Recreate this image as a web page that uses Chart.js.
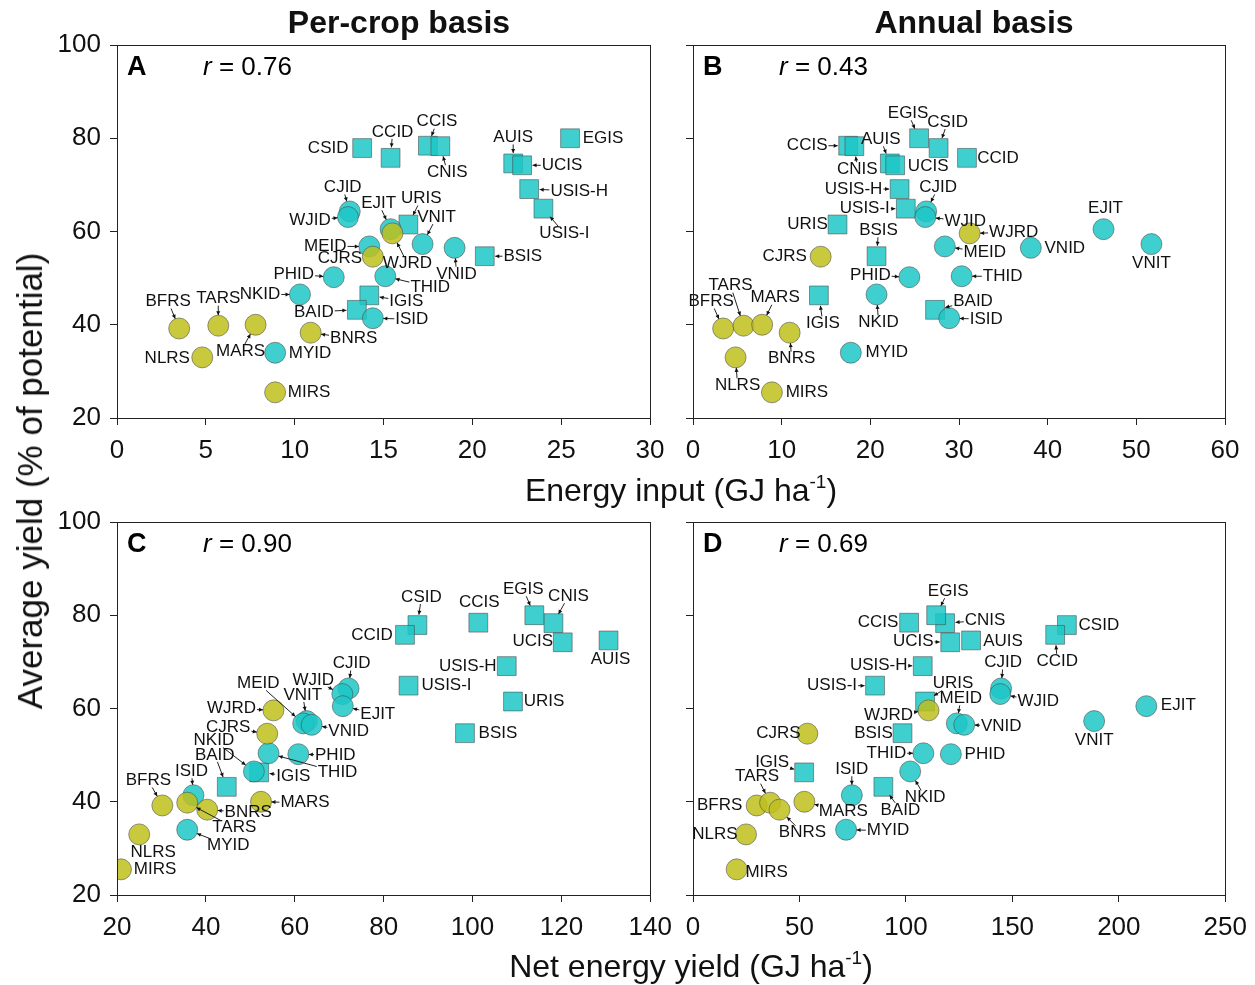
<!DOCTYPE html>
<html>
<head>
<meta charset="utf-8">
<script src="https://cdn.jsdelivr.net/npm/chart.js@4.4.1/dist/chart.umd.min.js"></script>
<style>
  body { margin: 0; background: #fff; font-family: "Liberation Sans", Arial, sans-serif; }
  #page { position: relative; width: 1255px; height: 985px; overflow: hidden; }
  canvas { position: absolute; }
  .txt { position: absolute; transform: translate(-50%, -50%); white-space: nowrap; color: #111; }
  .sup { font-size: 19px; position: relative; top: -13px; }
</style>
</head>
<body>
<div id="page">
  <canvas id="cA" width="680" height="470" style="left:0;top:0"></canvas>
  <canvas id="cB" width="580" height="470" style="left:675px;top:0"></canvas>
  <canvas id="cC" width="682" height="515" style="left:0;top:470px"></canvas>
  <canvas id="cD" width="582" height="515" style="left:675px;top:470px"></canvas>

  <div class="txt" style="left:399px;top:22px;font-weight:bold;font-size:32px">Per-crop basis</div>
  <div class="txt" style="left:974px;top:22px;font-weight:bold;font-size:32px">Annual basis</div>
  <div class="txt" style="left:681px;top:490px;font-size:32px">Energy input (GJ ha<span class="sup">-1</span>)</div>
  <div class="txt" style="left:691px;top:966px;font-size:32px">Net energy yield (GJ ha<span class="sup">-1</span>)</div>
  <div class="txt" style="left:30px;top:481px;font-size:35px;transform:translate(-50%,-50%) rotate(-90deg)">Average yield (% of potential)</div>
</div>

<script>
// systems (same order in every array)
var names = ["CSID", "CCID", "CCIS", "CNIS", "AUIS", "UCIS", "EGIS", "USIS-H", "USIS-I", "URIS", "BSIS", "IGIS", "BAID",
  "CJID", "WJID", "EJIT", "VNIT", "MEID", "VNID", "PHID", "THID", "NKID", "ISID", "MYID",
  "CJRS", "WJRD", "BFRS", "TARS", "MARS", "BNRS", "NLRS", "MIRS"];
var kind = ["sq", "sq", "sq", "sq", "sq", "sq", "sq", "sq", "sq", "sq", "sq", "sq", "sq",
  "tc", "tc", "tc", "tc", "tc", "tc", "tc", "tc", "tc", "tc", "tc",
  "yc", "yc", "yc", "yc", "yc", "yc", "yc", "yc"];

// average yield (% of potential)
var yieldPct = [77.9, 75.8, 78.4, 78.3, 74.6, 74.2, 80.0, 69.1, 64.9, 61.5, 54.7, 46.3, 43.2,
  64.3, 63.1, 60.5, 57.3, 56.8, 56.5, 50.2, 50.4, 46.5, 41.4, 34.0,
  54.6, 59.6, 39.2, 39.8, 40.0, 38.3, 33.0, 25.5];

// energy input, GJ/ha
var inputPerCrop = [13.8, 15.4, 17.5, 18.2, 22.3, 22.8, 25.5, 23.2, 24.0, 16.4, 20.7, 14.2, 13.5,
  13.1, 13.0, 15.4, 17.2, 14.2, 19.0, 12.2, 15.1, 10.3, 14.4, 8.9,
  14.4, 15.5, 3.5, 5.7, 7.8, 10.9, 4.8, 8.9];
var inputAnnual = [27.7, 30.9, 17.5, 18.2, 22.2, 22.8, 25.5, 23.3, 24.0, 16.3, 20.7, 14.2, 27.3,
  26.3, 26.2, 46.3, 51.7, 28.4, 38.1, 24.4, 30.3, 20.7, 28.9, 17.8,
  14.4, 31.2, 3.4, 5.7, 7.8, 10.9, 4.8, 8.9];

// net energy yield, GJ/ha
var netPerCrop = [87.6, 84.8, 101.3, 118.2, 130.6, 120.3, 113.9, 107.7, 85.6, 109.1, 98.3, 52.0, 44.7,
  72.1, 70.7, 70.8, 62.7, 61.9, 63.8, 60.8, 54.1, 50.8, 37.2, 35.8,
  53.8, 55.2, 30.2, 35.8, 52.4, 40.3, 25.0, 20.9];
var netAnnual = [175.6, 170.1, 101.5, 118.4, 130.6, 120.8, 114.2, 107.9, 85.5, 109.0, 98.4, 52.2, 89.4,
  144.7, 144.3, 212.9, 188.4, 123.9, 127.4, 121.1, 108.2, 102.0, 74.6, 71.9,
  53.7, 110.6, 29.9, 36.2, 52.3, 40.6, 24.9, 20.5];

var yTicks = [20, 40, 60, 80, 100];

// label placement: [dx, dy, leader line]
var labA = {
  CSID: [-34, 0, 0], CCID: [2, -26, 1], CCIS: [9, -24, 1], CNIS: [7, 26, 1], AUIS: [0, -26, 1], UCIS: [40, 0, 1],
  EGIS: [33, 0, 0], "USIS-H": [50, 2, 1], "USIS-I": [21, 25, 1], URIS: [13, -26, 1], BSIS: [38, 0, 1], IGIS: [37, 6, 1],
  BAID: [-43, 2, 1], CJID: [-7, -24, 1], WJID: [-38, 3, 1], EJIT: [-12, -26, 1], VNIT: [14, -27, 1], MEID: [-44, 0, 1],
  VNID: [2, 26, 1], PHID: [-40, -3, 1], THID: [45, 11, 1], NKID: [-40, 0, 1], ISID: [39, 1, 1], MYID: [35, 1, 0],
  CJRS: [-33, 2, 0], WJRD: [15, 30, 1], BFRS: [-11, -27, 1], TARS: [0, -27, 1], MARS: [-15, 27, 1], BNRS: [43, 6, 1],
  NLRS: [-35, 1, 0], MIRS: [34, 0, 0]
};
var labB = {
  CSID: [9, -26, 1], CCID: [31, 0, 0], CCIS: [-41, 0, 1], CNIS: [3, 23, 1], AUIS: [-9, -24, 1], UCIS: [33, 1, 1],
  EGIS: [-11, -25, 1], "USIS-H": [-46, 0, 1], "USIS-I": [-41, 0, 1], URIS: [-30, 0, 0], BSIS: [2, -26, 1], IGIS: [4, 28, 1],
  BAID: [38, -9, 1], CJID: [12, -24, 1], WJID: [40, 4, 1], EJIT: [2, -21, 0], VNIT: [0, 19, 0], MEID: [40, 6, 1],
  VNID: [34, 0, 0], PHID: [-39, -2, 1], THID: [41, 0, 1], NKID: [2, 28, 1], ISID: [37, 1, 1], MYID: [36, 0, 0],
  CJRS: [-36, 0, 0], WJRD: [44, -1, 1], BFRS: [-12, -27, 1], TARS: [-13, -40, 1], MARS: [13, -27, 1], BNRS: [2, 26, 1],
  NLRS: [2, 28, 1], MIRS: [35, 0, 0]
};
var labC = {
  CSID: [4, -28, 1], CCID: [-33, 0, 0], CCIS: [1, -20, 0], CNIS: [15, -27, 1], AUIS: [2, 19, 0], UCIS: [-30, -1, 0],
  EGIS: [-11, -26, 1], "USIS-H": [-39, 0, 0], "USIS-I": [38, 0, 0], URIS: [31, 0, 0], BSIS: [33, 0, 0], IGIS: [34, 4, 1],
  BAID: [-12, -32, 1], CJID: [3, -25, 1], WJID: [-29, -14, 1], EJIT: [35, 8, 1], VNIT: [-4, -26, 1], MEID: [-45, -40, 1],
  VNID: [37, 6, 1], PHID: [37, 1, 1], THID: [69, 19, 1], NKID: [-40, -31, 1], ISID: [-2, -24, 1], MYID: [41, 16, 1],
  CJRS: [-39, -6, 1], WJRD: [-42, -2, 1], BFRS: [-14, -25, 1], TARS: [47, 25, 1], MARS: [44, 1, 1], BNRS: [41, 3, 1],
  NLRS: [14, 18, 0], MIRS: [34, 0, 0]
};
var labD = {
  CSID: [32, 0, 0], CCID: [2, 26, 1], CCIS: [-31, 0, 0], CNIS: [40, -3, 1], AUIS: [32, 1, 0], UCIS: [-37, -1, 1],
  EGIS: [12, -24, 1], "USIS-H": [-44, -1, 1], "USIS-I": [-43, 0, 1], URIS: [28, -18, 1], BSIS: [-29, 0, 0], IGIS: [-32, -10, 1],
  BAID: [17, 23, 1], CJID: [2, -26, 1], WJID: [38, 7, 1], EJIT: [32, -1, 0], VNIT: [0, 19, 0], MEID: [4, -25, 1],
  VNID: [37, 1, 1], PHID: [34, 0, 0], THID: [-37, 0, 1], NKID: [15, 26, 1], ISID: [0, -26, 1], MYID: [42, 1, 1],
  CJRS: [-29, 0, 0], WJRD: [-40, 5, 1], BFRS: [-37, 0, 0], TARS: [-13, -26, 1], MARS: [39, 10, 1], BNRS: [23, 23, 1],
  NLRS: [-31, 0, 0], MIRS: [30, 3, 0]
};

var FONT = "'Liberation Sans', Arial, sans-serif";
var teal = "rgba(30,199,199,0.85)";
var olive = "rgba(192,192,28,0.85)";

var pointLabels = {
  id: "ptLabels",
  afterDatasetsDraw: function (chart, args, opts) {
    var c = chart.ctx;
    c.save();
    c.font = "17px " + FONT;
    c.textAlign = "center";
    c.textBaseline = "middle";
    c.fillStyle = "#111";
    c.strokeStyle = "#222";
    c.lineWidth = 1;
    chart.data.datasets.forEach(function (ds, di) {
      var meta = chart.getDatasetMeta(di);
      meta.data.forEach(function (pt, i) {
        var name = ds.names[i];
        var off = opts.offsets[name];
        if (!off) return;
        var lx = pt.x + off[0];
        var ly = pt.y + off[1];
        c.fillText(name, lx, ly);
        if (!off[2]) return;
        var hw = c.measureText(name).width / 2 + 1;
        var hh = 7;
        var dx = pt.x - lx, dy = pt.y - ly;
        var len = Math.sqrt(dx * dx + dy * dy);
        var ux = dx / len, uy = dy / len;
        var tx = ux !== 0 ? hw / Math.abs(ux) : 1e9;
        var ty = uy !== 0 ? hh / Math.abs(uy) : 1e9;
        var t0 = Math.min(tx, ty);
        var t1 = len - 10.5;
        if (t1 - t0 < 2) return;
        var sx = lx + ux * t0, sy = ly + uy * t0;
        var ex = lx + ux * t1, ey = ly + uy * t1;
        c.beginPath();
        c.moveTo(sx, sy);
        c.lineTo(ex, ey);
        c.stroke();
        c.beginPath();
        c.moveTo(ex, ey);
        c.lineTo(ex - ux * 4 - uy * 2, ey - uy * 4 + ux * 2);
        c.lineTo(ex - ux * 4 + uy * 2, ey - uy * 4 - ux * 2);
        c.closePath();
        c.fill();
      });
    });
    c.restore();
  }
};

var panelFrame = {
  id: "panelFrame",
  afterDraw: function (chart, args, opts) {
    var a = chart.chartArea;
    var c = chart.ctx;
    c.save();
    c.strokeStyle = "#222";
    c.lineWidth = 1;
    c.strokeRect(Math.round(a.left) + 0.5, Math.round(a.top) + 0.5, Math.round(a.right - a.left), Math.round(a.bottom - a.top));
    c.fillStyle = "#000";
    c.textBaseline = "middle";
    c.textAlign = "left";
    c.font = "bold 27px " + FONT;
    c.fillText(opts.letter, a.left + 10, a.top + 23);
    c.font = "italic 26px " + FONT;
    c.fillText("r", a.left + 86, a.top + 23);
    var rw = c.measureText("r").width;
    c.font = "26px " + FONT;
    c.fillText(" = " + opts.r, a.left + 86 + rw, a.top + 23);
    c.restore();
  }
};

Chart.register(pointLabels, panelFrame);

function buildSets(xs) {
  var groups = [["yc", "circle", 10.5, olive], ["tc", "circle", 10.5, teal], ["sq", "rect", 13.3, teal]];
  return groups.map(function (g) {
    var pts = [], nm = [];
    names.forEach(function (n, i) {
      if (kind[i] === g[0]) {
        pts.push({ x: xs[i], y: yieldPct[i] });
        nm.push(n);
      }
    });
    return {
      data: pts,
      names: nm,
      pointStyle: g[1],
      pointRadius: g[2],
      pointHoverRadius: g[2],
      backgroundColor: g[3],
      borderColor: "rgba(70,70,70,0.55)",
      borderWidth: 1,
      showLine: false
    };
  });
}

function makePanel(id, xs, xMin, xMax, xStep, offsets, letter, r, yW, xH, padTop) {
  return new Chart(document.getElementById(id), {
    type: "scatter",
    data: { datasets: buildSets(xs) },
    options: {
      responsive: false,
      animation: false,
      layout: { padding: { top: padTop, right: 30, left: 0, bottom: 0 } },
      plugins: {
        legend: { display: false },
        tooltip: { enabled: false },
        ptLabels: { offsets: offsets },
        panelFrame: { letter: letter, r: r }
      },
      scales: {
        x: {
          min: xMin, max: xMax,
          border: { display: false },
          grid: { drawOnChartArea: false, tickLength: 7, color: "#222" },
          ticks: { stepSize: xStep, color: "#111", font: { size: 26, family: FONT }, padding: 10, maxRotation: 0 },
          afterFit: function (s) { s.height = xH; }
        },
        y: {
          min: 20, max: 100,
          border: { display: false },
          grid: { drawOnChartArea: false, tickLength: 7, color: "#222" },
          afterBuildTicks: function (s) { s.ticks = yTicks.map(function (v) { return { value: v }; }); },
          ticks: {
            color: "#111", font: { size: 26, family: FONT }, padding: 9,
            display: yW > 50
          },
          afterFit: function (s) { s.width = yW; }
        }
      }
    }
  });
}

makePanel("cA", inputPerCrop, 0, 30, 5, labA, "A", "0.76", 117, 52, 45);
makePanel("cB", inputAnnual, 0, 60, 10, labB, "B", "0.43", 18, 52, 45);
makePanel("cC", netPerCrop, 20, 140, 20, labC, "C", "0.90", 117, 90, 52);
makePanel("cD", netAnnual, 0, 250, 50, labD, "D", "0.69", 18, 90, 52);
</script>
</body>
</html>
